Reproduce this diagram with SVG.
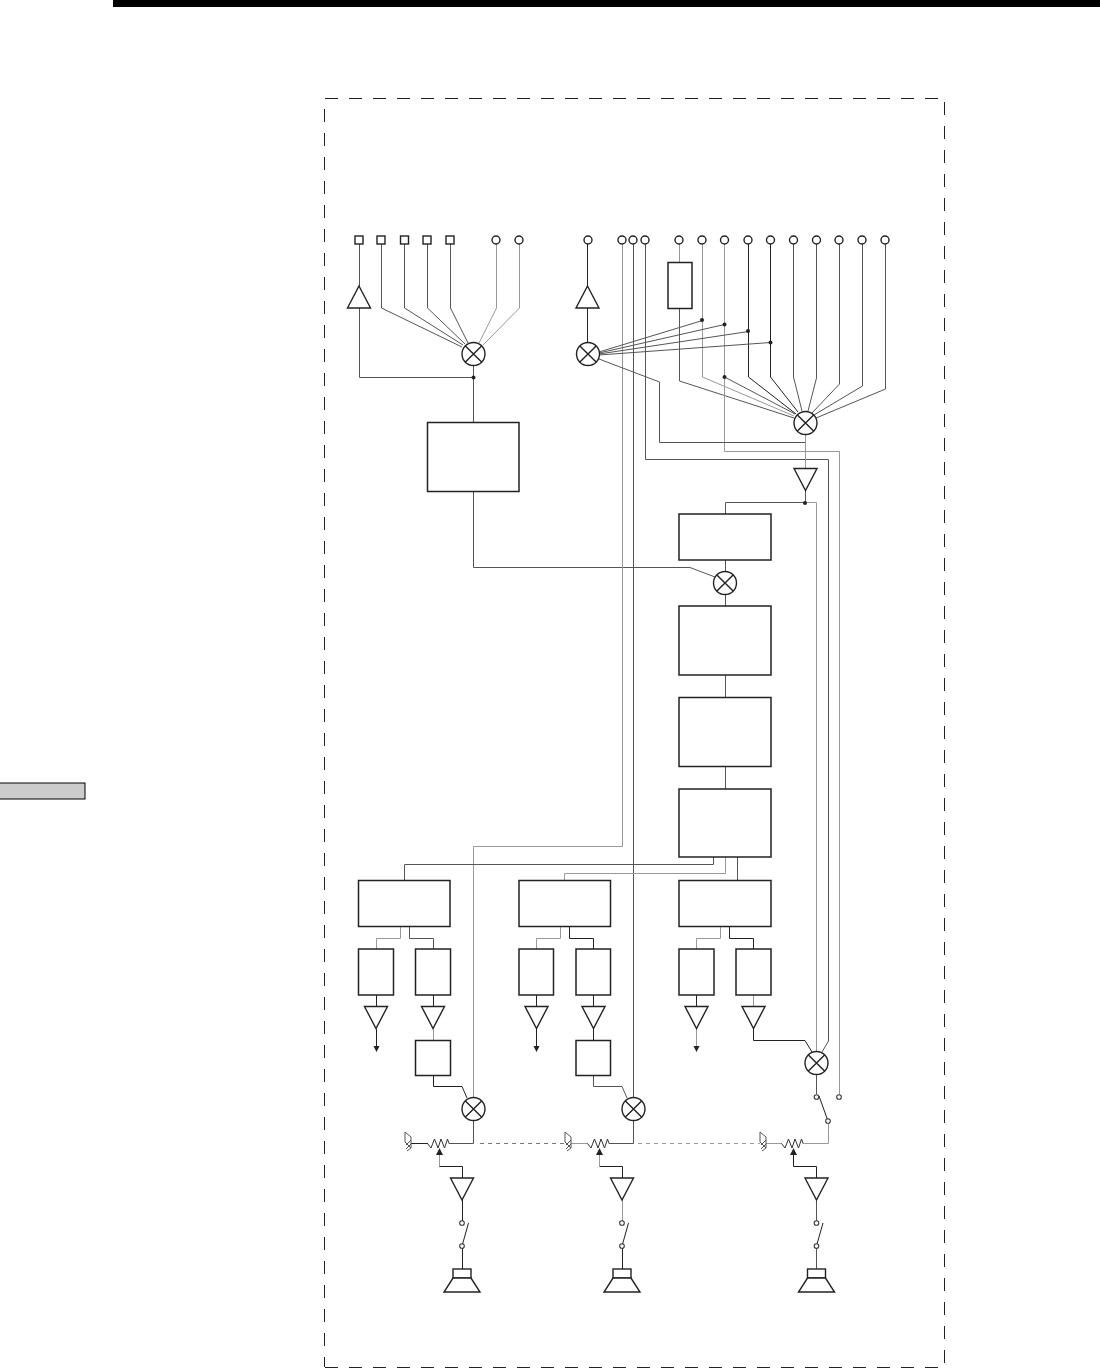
<svg xmlns="http://www.w3.org/2000/svg" xmlns:xlink="http://www.w3.org/1999/xlink" width="1100" height="1369" viewBox="0 0 1100 1369">
<style>
.w{fill:none;stroke:#555;stroke-width:1}
.l{fill:none;stroke:#999;stroke-width:1}
.k{fill:none;stroke:#222;stroke-width:1}
.b{fill:#fff;stroke:#222;stroke-width:1.5}
.t{fill:#fff;stroke:#222;stroke-width:1.4}
.s{fill:#fff;stroke:#333;stroke-width:1.1}
.d{fill:#222}
.f{fill:none;stroke:#222;stroke-width:1;stroke-dasharray:13 11}
</style>
<defs>
<g id="mix"><circle r="11.5" class="t"/><path d="M-8.1-8.1L8.1 8.1M-8.1 8.1L8.1-8.1" fill="none" stroke="#222" stroke-width="1.4"/></g>
<path id="up" class="t" d="M0-11L11.5 11H-11.5Z"/>
<path id="dn" class="t" d="M-11.5-11H11.5L0 11Z"/>
<rect id="sq" x="-4" y="-4" width="8" height="8" class="t"/>
<circle id="ci" r="4" class="t"/>
<circle id="sc" r="2.3" class="s"/>
<g id="spk"><rect x="-9" y="-23" width="18" height="9" class="t"/><path class="t" d="M-9-14H9L18 0H-18Z"/></g>
<path id="zig" fill="none" stroke="#333" stroke-width="1" d="M0 0L3.500 4.500L7-4.500L10.500 4.500L13.500-4.500L17 4.500L20-4.500L21.500 0"/>
<path id="gnd" fill="none" stroke="#555" stroke-width="1" d="M-4-11L2-6L2 5L-4-1M-4-11L-4-1M2-3L-3 2M2 1L-3 6M2 5L-2 8"/>
</defs>
<rect id="topbar" x="113" y="0" width="987" height="7" fill="#000"/>
<rect id="tab" x="-2" y="783" width="87" height="16" fill="#ccc" stroke="#000" stroke-width="1"/>
<g id="frame">
<path class="f" d="M325 98.500H945"/>
<path class="f" d="M324.500 109V1367"/>
<path class="f" d="M944.500 102V1367"/>
<path class="f" d="M325 1367.500H945"/>
</g>
<g id="connectors">
<path class="w" d="M359.500 240V286M359.500 308V377.500H473.500"/>
<path class="w" d="M381.500 240V308L462 347M404.500 240V308L463 345M427.500 240V308L465 344M450.500 240V308L468 343"/>
<path class="l" d="M496.500 240V308L479 343M519.500 240V308L483 345"/>
<path class="w" d="M473.500 365V422M473.500 491V567.500H690L715 577"/>
<path class="k" d="M587.500 240V286M587.500 308V343"/>
<path class="l" d="M622.500 240V846.500H473.500V1098"/>
<path class="w" d="M633.500 240V1098"/>
<path class="w" d="M645.500 240V459.500H828.500V1041L822 1052"/>
<path class="l" d="M679.500 240V262"/>
<path class="w" d="M679.500 308V381L794 418"/>
<path class="l" d="M702.500 240V377L794 416"/>
<path class="l" d="M724.500 240V451.500H839.500V1094"/>
<path class="w" d="M724.500 377L795 414"/>
<path class="k" d="M748.500 240V377L796 414M770.500 240V377L798 412"/>
<path class="w" d="M793.500 240V377L802 411M816.500 240V378L808 411M839.500 240V384L812 413M862.500 240V386L814 415M885.500 240V389L816 418"/>
<path class="w" d="M599 352L702.500 320.500M599 353L724.500 324.500M599 354L748.500 331.500M599 355L770.500 342.500"/>
<path class="w" d="M599 359L659.500 382V442.500H805.500"/>
<path class="l" d="M805.500 435V468"/>
<path class="w" d="M805.500 491V502.500H725.500V514"/>
<path class="l" d="M805.500 502.500H816.500V1052"/>
<path class="w" d="M725.500 560V572M725.500 594V606M725.500 675V697M725.500 766V789"/>
<path class="w" d="M713.500 857V864.500H404.500V880"/>
<path class="l" d="M725.500 857V873.500H564.500V880"/>
<path class="w" d="M737.500 857V880"/>
<path class="l" d="M400.500 926V938.500H376.500V949"/>
<path class="w" d="M409.500 926V938.500H433.500V949"/>
<path class="l" d="M560.500 926V938.500H536.500V949"/>
<path class="k" d="M569.500 926V938.500H593.500V949"/>
<path class="l" d="M720.500 926V938.500H696.500V949"/>
<path class="k" d="M729.500 926V938.500H753.500V949"/>
<path class="k" d="M376.500 995V1006M376.500 1029V1047M536.500 995V1006M536.500 1029V1047M696.500 995V1006"/>
<path class="l" d="M696.500 1029V1047"/>
<path class="k" d="M433.500 995V1006M593.500 995V1006M593.500 1029V1041"/>
<path class="l" d="M433.500 1029V1041M753.500 995V1006"/>
<path class="k" d="M433.500 1075V1086.500H462L467 1098"/>
<path class="w" d="M593.500 1075V1086.500H622L627 1098"/>
<path class="k" d="M753.500 1029V1040.500H805L812 1052"/>
<path class="w" d="M816.500 1075V1094"/>
<path class="w" d="M473.500 1121V1143.500H449M633.500 1121V1143.500H609"/>
<path class="l" d="M828.500 1124V1143.500H803"/>
<path class="k" d="M411 1143.500H428"/>
<path class="l" d="M571 1143.500H588M766 1143.500H782"/>
<path class="l" d="M439.500 1153V1166.500"/>
<path class="k" d="M439.500 1166.500H462.500V1178M599.500 1166.500H622.500V1178"/>
<path class="l" d="M599.500 1153V1166.500"/>
<path class="k" d="M793.500 1153V1166.500H816.500V1178"/>
<path class="k" d="M462.500 1200V1221M462.500 1248V1269M622.500 1248V1269"/>
<path class="l" d="M622.500 1200V1221"/>
<path class="w" d="M816.500 1200V1221M816.500 1248V1269"/>
<path fill="none" stroke="#777" stroke-width="1" stroke-dasharray="4 4" d="M480 1143.500H564"/>
<path fill="none" stroke="#999" stroke-width="1" stroke-dasharray="4 4" d="M638 1143.500H760"/>
</g>
<g id="terminals">
<use xlink:href="#sq" x="359" y="240"/><use xlink:href="#sq" x="381" y="240"/><use xlink:href="#sq" x="404.500" y="240"/><use xlink:href="#sq" x="427" y="240"/><use xlink:href="#sq" x="450" y="240"/>
<use xlink:href="#ci" x="496" y="240"/><use xlink:href="#ci" x="519" y="240"/><use xlink:href="#ci" x="588" y="240"/><use xlink:href="#ci" x="622" y="240"/><use xlink:href="#ci" x="633" y="240"/><use xlink:href="#ci" x="645" y="240"/><use xlink:href="#ci" x="679" y="240"/><use xlink:href="#ci" x="702" y="240"/><use xlink:href="#ci" x="724.500" y="240"/><use xlink:href="#ci" x="748" y="240"/><use xlink:href="#ci" x="770.500" y="240"/><use xlink:href="#ci" x="793.500" y="240"/><use xlink:href="#ci" x="816.500" y="240"/><use xlink:href="#ci" x="839" y="240"/><use xlink:href="#ci" x="862" y="240"/><use xlink:href="#ci" x="885" y="240"/>
</g>
<g id="amp-in1"><use xlink:href="#up" x="359" y="297"/></g>
<g id="amp-in2"><use xlink:href="#up" x="587.500" y="297"/></g>
<g id="mix-a"><use xlink:href="#mix" x="473.500" y="354"/></g>
<g id="mix-b"><use xlink:href="#mix" x="588" y="354"/></g>
<g id="mix-c"><use xlink:href="#mix" x="805.500" y="423"/></g>
<g id="mix-d"><use xlink:href="#mix" x="725" y="583"/></g>
<g id="mix-e"><use xlink:href="#mix" x="473.500" y="1109"/></g>
<g id="mix-f"><use xlink:href="#mix" x="633.500" y="1109"/></g>
<g id="mix-g"><use xlink:href="#mix" x="816.500" y="1063"/></g>
<g id="box-side"><rect class="b" x="668" y="262.500" width="24" height="46"/></g>
<g id="box-a"><rect class="b" x="427.500" y="422.500" width="91.500" height="69"/></g>
<g id="amp-main"><use xlink:href="#dn" x="805.500" y="479.500"/></g>
<g id="box-b"><rect class="b" x="679" y="514" width="92" height="46"/></g>
<g id="box-c"><rect class="b" x="679" y="606" width="92" height="69"/></g>
<g id="box-d"><rect class="b" x="679" y="697.500" width="92" height="69"/></g>
<g id="box-e"><rect class="b" x="679" y="789" width="92" height="68"/></g>
<g id="box-f1"><rect class="b" x="358.500" y="880.500" width="91.500" height="46"/></g>
<g id="box-f2"><rect class="b" x="519" y="880.500" width="91.500" height="46"/></g>
<g id="box-f3"><rect class="b" x="679" y="880.500" width="92" height="46"/></g>
<g id="sub-1"><rect class="b" x="358.500" y="949" width="35" height="46"/><use xlink:href="#dn" x="376" y="1017.500"/></g>
<g id="sub-2"><rect class="b" x="415.500" y="949" width="35" height="46"/><use xlink:href="#dn" x="433" y="1017.500"/></g>
<g id="sub-3"><rect class="b" x="519" y="949" width="34.500" height="46"/><use xlink:href="#dn" x="536.500" y="1017.500"/></g>
<g id="sub-4"><rect class="b" x="576" y="949" width="34.500" height="46"/><use xlink:href="#dn" x="593.500" y="1017.500"/></g>
<g id="sub-5"><rect class="b" x="679" y="949" width="35" height="46"/><use xlink:href="#dn" x="696.500" y="1017.500"/></g>
<g id="sub-6"><rect class="b" x="736" y="949" width="35" height="46"/><use xlink:href="#dn" x="753.500" y="1017.500"/></g>
<g id="box-g1"><rect class="b" x="415.500" y="1040.500" width="35" height="35"/></g>
<g id="box-g2"><rect class="b" x="576" y="1040.500" width="34.500" height="35"/></g>
<g id="arrows"><path class="d" d="M373.500 1046H379.500L376.500 1052ZM533.500 1046H539.500L536.500 1052ZM693.500 1046H699.500L696.500 1052ZM436 1155H443L439.500 1148ZM596 1155H603L599.500 1148ZM790 1155H797L793.500 1148Z"/></g>
<g id="junctions"><circle class="d" cx="473.500" cy="377.500" r="2"/><circle class="d" cx="702" cy="320" r="2"/><circle class="d" cx="724.500" cy="324.500" r="2"/><circle class="d" cx="748" cy="331" r="2"/><circle class="d" cx="770.500" cy="342.500" r="2"/><circle class="d" cx="724.500" cy="377" r="2"/><circle class="d" cx="805" cy="503" r="2"/></g>
<g id="pot-1"><use xlink:href="#gnd" x="409" y="1143"/><use xlink:href="#zig" x="427.500" y="1143.500"/></g>
<g id="pot-2"><use xlink:href="#gnd" x="569" y="1143"/><use xlink:href="#zig" x="587.500" y="1143.500"/></g>
<g id="pot-3"><use xlink:href="#gnd" x="764" y="1143"/><use xlink:href="#zig" x="781.500" y="1143.500"/></g>
<g id="amp-s1"><use xlink:href="#dn" x="462" y="1189"/></g>
<g id="amp-s2"><use xlink:href="#dn" x="622" y="1189"/></g>
<g id="amp-s3"><use xlink:href="#dn" x="816.500" y="1189"/></g>
<g id="sw-1"><path class="k" d="M462 1246L468.500 1223"/><use xlink:href="#sc" x="462" y="1223"/><use xlink:href="#sc" x="462" y="1246"/></g>
<g id="sw-2"><path class="k" d="M622 1246L628.500 1223"/><use xlink:href="#sc" x="622" y="1223"/><use xlink:href="#sc" x="622" y="1246"/></g>
<g id="sw-3"><path class="k" d="M816.500 1246L823 1223"/><use xlink:href="#sc" x="816.500" y="1223"/><use xlink:href="#sc" x="816.500" y="1246"/></g>
<g id="sw-4"><path class="k" d="M828 1121L819 1096"/><use xlink:href="#sc" x="816.500" y="1097"/><use xlink:href="#sc" x="828" y="1121"/><use xlink:href="#sc" x="839" y="1097"/></g>
<g id="spk-1"><use xlink:href="#spk" x="462" y="1292"/></g>
<g id="spk-2"><use xlink:href="#spk" x="622" y="1292"/></g>
<g id="spk-3"><use xlink:href="#spk" x="816.500" y="1292"/></g>
</svg>
